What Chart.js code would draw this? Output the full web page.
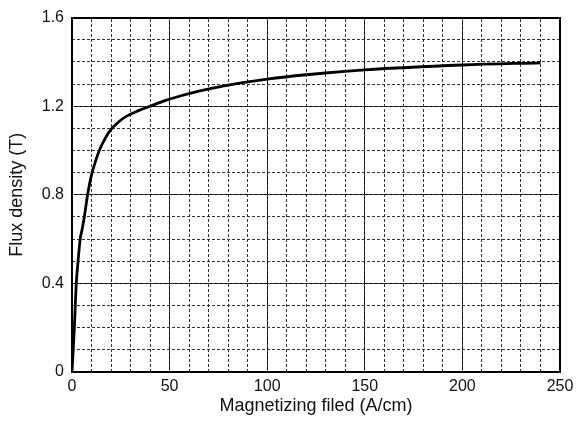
<!DOCTYPE html>
<html>
<head>
<meta charset="utf-8">
<script src="https://cdn.jsdelivr.net/npm/chart.js@4/dist/chart.umd.min.js"></script>
<style>
  html, body { margin: 0; padding: 0; background: #fff; }
  #wrap { width: 582px; height: 425px; position: relative; }
</style>
</head>
<body>
<div id="wrap"><canvas id="bhChart"></canvas></div>
<script>
// B-H magnetization curve
const fieldValues = [0, 1.2, 2.2, 3.1, 4.2, 5.1, 6.3, 8, 10, 12, 14, 17, 20, 24, 28, 34, 40, 48, 55, 65, 78, 100, 120, 150, 200, 240];
const fluxValues  = [0, 0.2, 0.4, 0.5, 0.6, 0.64, 0.7, 0.8, 0.89, 0.95, 1.0, 1.055, 1.095, 1.13, 1.155, 1.18, 1.2, 1.226, 1.245, 1.268, 1.292, 1.322, 1.342, 1.364, 1.386, 1.396];

const xTicks = [0, 50, 100, 150, 200, 250];
const xTickLabels = ['0', '50', '100', '150', '200', '250'];
const yTicks = [0, 0.4, 0.8, 1.2, 1.6];
const yTickLabels = ['0', '0.4', '0.8', '1.2', '1.6'];

const FONT = '"Liberation Sans", Arial, sans-serif';
Chart.defaults.font.family = FONT;
Chart.defaults.color = '#111';

const points = fieldValues.map((x, i) => ({ x: x, y: fluxValues[i] }));

new Chart(document.getElementById('bhChart'), {
  type: 'line',
  data: {
    datasets: [{
      data: points,
      borderColor: '#000',
      borderWidth: 2.8,
      pointRadius: 0,
      cubicInterpolationMode: 'monotone',
      fill: false
    }]
  },
  options: {
    responsive: true,
    maintainAspectRatio: false,
    animation: false,
    layout: { padding: { left: 0, top: 16, right: 22, bottom: 0 } },
    plugins: { legend: { display: false }, tooltip: { enabled: false } },
    scales: {
      // major axes: labels + solid grid
      x: {
        type: 'linear', position: 'bottom', min: 0, max: 250,
        afterBuildTicks: s => { s.ticks = xTicks.map(v => ({ value: v })); },
        afterFit: s => { s.height = 53; },
        ticks: {
          padding: 5, font: { size: 16 },
          callback: (v) => xTickLabels[xTicks.indexOf(v)]
        },
        grid: { color: '#000', lineWidth: 1, drawTicks: false },
        border: { color: '#000', width: 2 },
        title: {
          display: true, text: 'Magnetizing filed (A/cm)',
          font: { size: 18 }, color: '#111', padding: { top: 2, bottom: 8 }
        }
      },
      y: {
        type: 'linear', position: 'left', min: 0, max: 1.6,
        afterBuildTicks: s => { s.ticks = yTicks.map(v => ({ value: v })); },
        afterFit: s => { s.width = 72; },
        ticks: {
          padding: 8, font: { size: 16 },
          callback: (v) => yTickLabels[yTicks.indexOf(v)]
        },
        grid: { color: '#000', lineWidth: 1, drawTicks: false },
        border: { color: '#000', width: 2 },
        title: {
          display: true, text: 'Flux density (T)',
          font: { size: 18 }, color: '#111', padding: { top: 6, bottom: 2 }
        }
      },
      // minor axes: dashed grid only, no labels
      xMinor: {
        type: 'linear', position: 'top', min: 0, max: 250,
        ticks: { display: false, stepSize: 10 },
        grid: { color: '#333', lineWidth: 1, drawTicks: false },
        border: { color: '#000', width: 2, dash: [3, 2] }
      },
      yMinor: {
        type: 'linear', position: 'right', min: 0, max: 1.6,
        ticks: { display: false, stepSize: 0.1 },
        grid: { color: '#333', lineWidth: 1, drawTicks: false },
        border: { color: '#000', width: 2, dash: [3, 2] }
      }
    }
  }
});
</script>
</body>
</html>
